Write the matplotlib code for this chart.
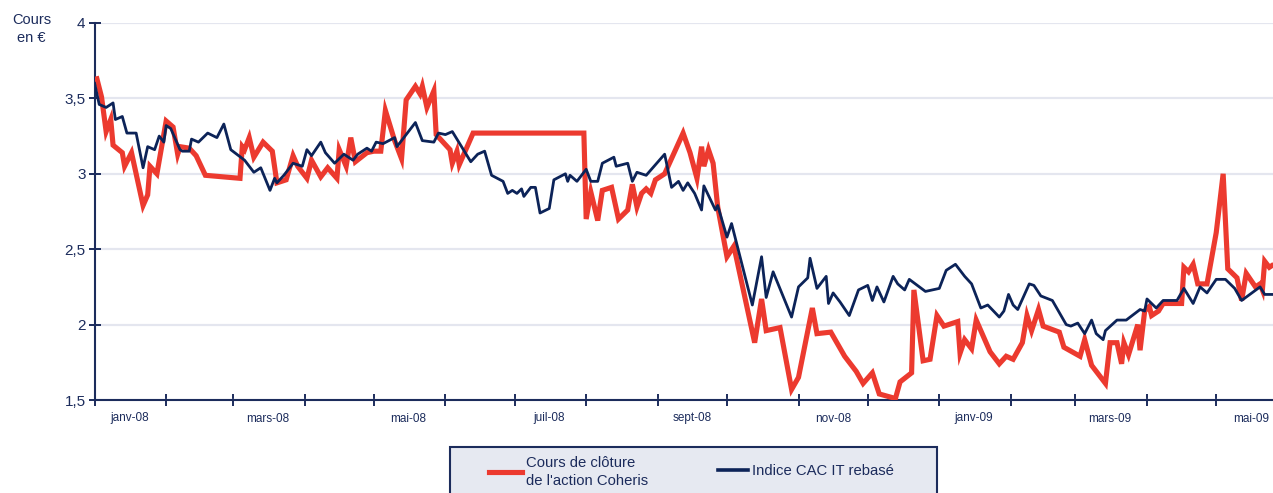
# -*- coding: utf-8 -*-
import matplotlib
matplotlib.use("Agg")
import matplotlib.pyplot as plt
import matplotlib.dates as mdates
import matplotlib.ticker as mticker
from matplotlib.patches import Rectangle
from matplotlib.lines import Line2D
import pandas as pd

plt.rcParams['font.family'] = ['Liberation Sans', 'DejaVu Sans']

# jours depuis le 1er janvier 2008 / cours en euros
debut = pd.Timestamp('2008-01-01')

jours_coheris = [1, 3, 5, 7, 8, 12, 13, 16, 21, 23,
                 24, 27, 31, 34, 36, 37, 41, 44, 48, 63,
                 64, 65, 67, 69, 73, 77, 79, 83, 86, 88,
                 92, 94, 98, 101, 105, 106, 109, 111, 113, 118,
                 121, 124, 126, 130, 133, 135, 139, 141, 142, 144,
                 147, 148, 154, 155, 157, 158, 164, 212, 213, 215,
                 218, 220, 224, 227, 231, 233, 235, 237, 239, 241,
                 243, 245, 247, 255, 258, 261, 263, 264, 266, 268,
                 270, 274, 277, 286, 289, 291, 297, 302, 305, 311,
                 313, 319, 325, 330, 333, 337, 340, 347, 349, 354,
                 355, 359, 362, 365, 368, 374, 375, 377, 380, 382,
                 388, 392, 395, 398, 402, 404, 406, 409, 411, 418,
                 420, 427, 429, 432, 438, 440, 443, 445, 446, 448,
                 452, 453, 455, 457, 458, 461, 463, 471, 472, 474,
                 476, 478, 482, 486, 489, 491, 495, 497, 499, 503,
                 505, 506, 507, 509, 510]
cours_coheris = [3.63, 3.51, 3.28, 3.36, 3.19, 3.14, 3.05, 3.14, 2.79, 2.86,
                 3.05, 3.00, 3.35, 3.31, 3.13, 3.18, 3.17, 3.12, 2.99, 2.97,
                 3.18, 3.16, 3.24, 3.11, 3.21, 3.15, 2.94, 2.96, 3.12, 3.05,
                 2.97, 3.09, 2.98, 3.04, 2.97, 3.16, 3.05, 3.24, 3.08, 3.14,
                 3.15, 3.15, 3.42, 3.22, 3.10, 3.49, 3.58, 3.53, 3.58, 3.44,
                 3.55, 3.26, 3.16, 3.07, 3.15, 3.06, 3.27, 3.27, 2.70, 2.88,
                 2.69, 2.89, 2.91, 2.70, 2.76, 2.93, 2.78, 2.87, 2.90, 2.87,
                 2.96, 2.98, 3.00, 3.27, 3.14, 2.97, 3.18, 3.05, 3.16, 3.07,
                 2.78, 2.45, 2.52, 1.88, 2.17, 1.96, 1.98, 1.57, 1.65, 2.11,
                 1.94, 1.95, 1.79, 1.69, 1.61, 1.68, 1.54, 1.51, 1.62, 1.68,
                 2.23, 1.76, 1.77, 2.06, 1.99, 2.02, 1.81, 1.90, 1.84, 2.03,
                 1.82, 1.74, 1.79, 1.77, 1.88, 2.06, 1.96, 2.10, 1.99, 1.95,
                 1.85, 1.79, 1.90, 1.73, 1.61, 1.88, 1.88, 1.74, 1.88, 1.80,
                 2.00, 1.83, 2.09, 2.12, 2.06, 2.09, 2.14, 2.14, 2.38, 2.35,
                 2.40, 2.27, 2.27, 2.61, 3.00, 2.37, 2.31, 2.16, 2.34, 2.25,
                 2.27, 2.23, 2.42, 2.38, 2.39]

jours_cac = [0, 2, 5, 8, 9, 12, 14, 18, 21, 23,
             26, 28, 30, 31, 33, 37, 38, 41, 42, 45,
             49, 53, 56, 59, 65, 69, 72, 76, 78, 79,
             82, 86, 90, 92, 94, 98, 100, 104, 108, 112,
             114, 118, 120, 122, 125, 130, 131, 139, 142, 147,
             149, 152, 155, 163, 166, 169, 172, 177, 179, 181,
             183, 185, 186, 189, 191, 193, 197, 199, 204, 205,
             206, 209, 213, 215, 218, 220, 225, 226, 231, 233,
             235, 239, 247, 250, 253, 255, 257, 260, 263, 264,
             269, 270, 274, 276, 285, 289, 291, 294, 302, 305,
             309, 310, 313, 317, 318, 320, 323, 327, 331, 335,
             337, 339, 342, 346, 348, 351, 353, 360, 366, 369,
             373, 377, 380, 384, 387, 392, 394, 396, 398, 400,
             405, 407, 410, 415, 421, 423, 426, 429, 432, 434,
             437, 438, 443, 447, 453, 455, 456, 460, 463, 469,
             472, 476, 479, 482, 486, 490, 494, 497, 505, 507,
             510]
indice_cac = [3.60, 3.46, 3.44, 3.47, 3.36, 3.38, 3.27, 3.27, 3.04, 3.18,
              3.16, 3.25, 3.21, 3.32, 3.30, 3.16, 3.15, 3.15, 3.23, 3.21,
              3.27, 3.24, 3.33, 3.16, 3.09, 3.01, 3.04, 2.89, 2.97, 2.94,
              2.99, 3.07, 3.05, 3.16, 3.12, 3.21, 3.14, 3.07, 3.13, 3.09,
              3.13, 3.17, 3.15, 3.21, 3.20, 3.24, 3.18, 3.34, 3.22, 3.21,
              3.27, 3.26, 3.28, 3.08, 3.13, 3.15, 2.99, 2.95, 2.87, 2.89,
              2.87, 2.90, 2.85, 2.91, 2.91, 2.74, 2.77, 2.96, 3.00, 2.95,
              2.99, 2.95, 3.03, 2.95, 2.95, 3.07, 3.11, 3.05, 3.07, 2.95,
              3.01, 2.99, 3.13, 2.91, 2.95, 2.89, 2.94, 2.87, 2.76, 2.92,
              2.76, 2.79, 2.58, 2.67, 2.13, 2.45, 2.18, 2.35, 2.05, 2.25,
              2.31, 2.44, 2.24, 2.32, 2.14, 2.21, 2.15, 2.06, 2.23, 2.26,
              2.16, 2.25, 2.15, 2.32, 2.27, 2.23, 2.30, 2.22, 2.24, 2.36,
              2.40, 2.32, 2.27, 2.11, 2.13, 2.05, 2.09, 2.20, 2.13, 2.10,
              2.27, 2.26, 2.19, 2.16, 2.00, 1.99, 2.01, 1.94, 2.03, 1.94,
              1.90, 1.96, 2.03, 2.03, 2.10, 2.09, 2.17, 2.11, 2.16, 2.16,
              2.24, 2.14, 2.25, 2.21, 2.30, 2.30, 2.24, 2.16, 2.25, 2.20,
              2.20]

mois_labels = ['janv-08', 'mars-08', 'mai-08', 'juil-08', 'sept-08', 'nov-08',
               'janv-09', 'mars-09', 'mai-09']
mois_dates = ['2008-01-16', '2008-03-16', '2008-05-16', '2008-07-16', '2008-09-16',
              '2008-11-16', '2009-01-16', '2009-03-16', '2009-05-16']
y_ticks = [1.5, 2, 2.5, 3, 3.5, 4]
y_labels = ['1,5', '2', '2,5', '3', '3,5', '4']

rouge = '#ec3a2f'
marine = '#0c2358'
texte = '#1c2c5c'

W, H = 1273, 493
fig = plt.figure(figsize=(W / 100, H / 100), dpi=100)
ax = fig.add_axes([94.6 / W, 1 - 400 / H, 1 - 94.6 / W, 377 / H])

x_coh = debut + pd.to_timedelta(jours_coheris, unit='D')
x_cac = debut + pd.to_timedelta(jours_cac, unit='D')
ax.plot(x_coh, cours_coheris, color=rouge, lw=3.7, solid_joinstyle='miter', zorder=3)
ax.plot(x_cac, indice_cac, color=marine, lw=2.0, zorder=4)

ax.set_xlim(debut, debut + pd.Timedelta(days=510.6))
ax.set_ylim(1.5, 4)

for s in ['top', 'right']:
    ax.spines[s].set_visible(False)
for s in ['left', 'bottom']:
    ax.spines[s].set_color(texte)
    ax.spines[s].set_linewidth(1.5)

ax.set_yticks(y_ticks)
ax.set_yticklabels(y_labels)
ax.yaxis.grid(True, color='#e4e6ef', lw=1.6)
ax.set_axisbelow(True)
ax.tick_params(axis='y', direction='inout', length=9, width=1.4, color=texte,
               labelsize=11, labelcolor=texte, pad=2)

ax.xaxis.set_major_locator(mdates.MonthLocator())
ax.xaxis.set_major_formatter(mticker.NullFormatter())
ax.xaxis.set_minor_locator(mticker.FixedLocator(mdates.date2num(pd.to_datetime(mois_dates))))
ax.xaxis.set_minor_formatter(mticker.FixedFormatter(mois_labels))
ax.tick_params(axis='x', which='major', direction='inout', length=8, width=1.4, color=texte)
ax.tick_params(axis='x', which='minor', length=0, labelsize=8.5, labelcolor=texte, pad=9)

fig.text(31.5 / W, 1 - 29 / H, 'Cours\nen €', ha='center', va='center',
         fontsize=10.5, color=texte, linespacing=1.3)

# cadre de la légende (coupé en bas comme l'original)
fig.patches.append(Rectangle((450 / W, 1 - 505 / H), 487 / W, 58 / H,
                             transform=fig.transFigure, facecolor='#e6e9f1',
                             edgecolor=texte, lw=1.5, zorder=0))

leg1 = fig.legend([Line2D([], [], color=rouge, lw=3.7)],
                  ["Cours de clôture\nde l'action Coheris"],
                  loc='center left', bbox_to_anchor=(489 / W, 1 - 472 / H),
                  frameon=False, borderpad=0, borderaxespad=0,
                  handlelength=2.2, handletextpad=0.3, fontsize=10.7)
leg2 = fig.legend([Line2D([], [], color=marine, lw=2.6)],
                  ['Indice CAC IT rebasé'],
                  loc='center left', bbox_to_anchor=(718 / W, 1 - 471 / H),
                  frameon=False, borderpad=0, borderaxespad=0,
                  handlelength=2.0, handletextpad=0.3, fontsize=10.7)
for lg in (leg1, leg2):
    for t in lg.get_texts():
        t.set_color(texte)
        t.set_linespacing(1.3)

fig.savefig('out.png', dpi=100)
